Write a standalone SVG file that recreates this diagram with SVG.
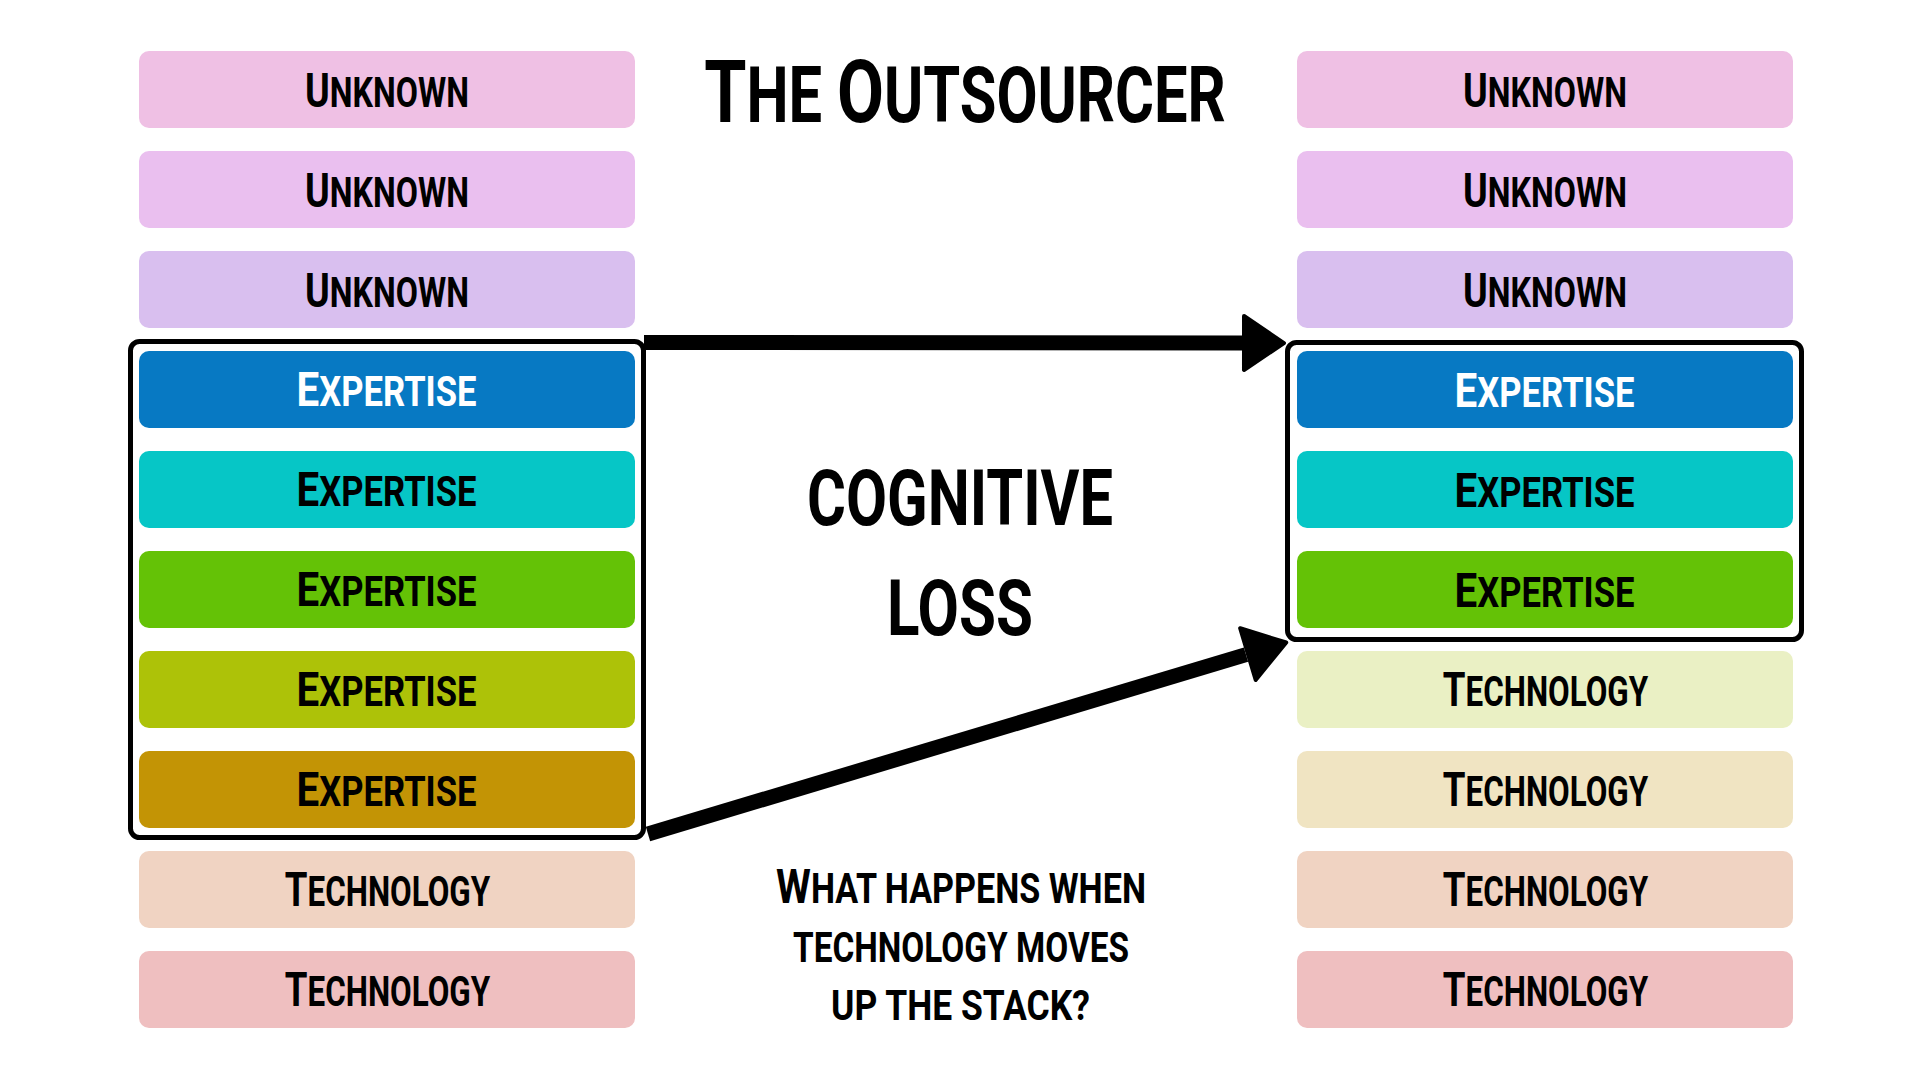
<svg xmlns="http://www.w3.org/2000/svg" width="1920" height="1080" viewBox="0 0 1920 1080">
<defs>
<style>
.lbl{font-family:Roboto,"Liberation Sans","DejaVu Sans",sans-serif;font-weight:700;font-size:42px;fill:#000}
.c{text-anchor:middle}
.big{font-size:49px}
.w{fill:#fff}
.title{font-size:77px}
.tbig{font-size:88px}
.frame{fill:none;stroke:#000;stroke-width:5}
.conn{fill:none;stroke:#000;stroke-width:15;marker-end:url(#head)}
</style>
<marker id="head" markerUnits="userSpaceOnUse" orient="auto" refX="0" refY="0" markerWidth="60" markerHeight="70" overflow="visible">
<path d="M2,-27 L42,0 L2,27 Z" fill="#000" stroke="#000" stroke-width="4" stroke-linejoin="round"/>
</marker>
</defs>
<rect width="1920" height="1080" fill="#fff"/>

<g id="frame-left"><rect class="frame" x="130.5" y="341.5" width="513" height="496" rx="9"/></g>
<g id="frame-right"><rect class="frame" x="1287.5" y="342.5" width="514" height="297" rx="9"/></g>

<g id="title"><text class="lbl title c" transform="translate(965,122) scale(0.7745,1)"><tspan class="tbig">T</tspan>HE <tspan class="tbig">O</tspan>UTSOURCER</text></g>

<g id="L1"><rect x="139" y="51" width="496" height="77" rx="10" fill="#EFC0E4"/><text class="lbl c" transform="translate(387,107) scale(0.768,1)"><tspan class="big">U</tspan>NKNOWN</text></g>
<g id="L2"><rect x="139" y="151" width="496" height="77" rx="10" fill="#EABFEF"/><text class="lbl c" transform="translate(387,207) scale(0.768,1)"><tspan class="big">U</tspan>NKNOWN</text></g>
<g id="L3"><rect x="139" y="251" width="496" height="77" rx="10" fill="#D9BFEF"/><text class="lbl c" transform="translate(387,307) scale(0.768,1)"><tspan class="big">U</tspan>NKNOWN</text></g>
<g id="L4"><rect x="139" y="351" width="496" height="77" rx="10" fill="#0779C3"/><text class="lbl c w" transform="translate(386.5,406) scale(0.824,1)"><tspan class="big">E</tspan>XPERTISE</text></g>
<g id="L5"><rect x="139" y="451" width="496" height="77" rx="10" fill="#06C6C6"/><text class="lbl c" transform="translate(386.5,506) scale(0.824,1)"><tspan class="big">E</tspan>XPERTISE</text></g>
<g id="L6"><rect x="139" y="551" width="496" height="77" rx="10" fill="#64C206"/><text class="lbl c" transform="translate(386.5,606) scale(0.824,1)"><tspan class="big">E</tspan>XPERTISE</text></g>
<g id="L7"><rect x="139" y="651" width="496" height="77" rx="10" fill="#ADC208"/><text class="lbl c" transform="translate(386.5,706) scale(0.824,1)"><tspan class="big">E</tspan>XPERTISE</text></g>
<g id="L8"><rect x="139" y="751" width="496" height="77" rx="10" fill="#C39405"/><text class="lbl c" transform="translate(386.5,806) scale(0.824,1)"><tspan class="big">E</tspan>XPERTISE</text></g>
<g id="L9"><rect x="139" y="851" width="496" height="77" rx="10" fill="#F0D3C2"/><text class="lbl c" transform="translate(387.5,906) scale(0.748,1)"><tspan class="big">T</tspan>ECHNOLOGY</text></g>
<g id="L10"><rect x="139" y="951" width="496" height="77" rx="10" fill="#EFBFC0"/><text class="lbl c" transform="translate(387.5,1006) scale(0.748,1)"><tspan class="big">T</tspan>ECHNOLOGY</text></g>

<g id="R1"><rect x="1297" y="51" width="496" height="77" rx="10" fill="#EFC0E4"/><text class="lbl c" transform="translate(1545,107) scale(0.768,1)"><tspan class="big">U</tspan>NKNOWN</text></g>
<g id="R2"><rect x="1297" y="151" width="496" height="77" rx="10" fill="#EABFEF"/><text class="lbl c" transform="translate(1545,207) scale(0.768,1)"><tspan class="big">U</tspan>NKNOWN</text></g>
<g id="R3"><rect x="1297" y="251" width="496" height="77" rx="10" fill="#D9BFEF"/><text class="lbl c" transform="translate(1545,307) scale(0.768,1)"><tspan class="big">U</tspan>NKNOWN</text></g>
<g id="R4"><rect x="1297" y="351" width="496" height="77" rx="10" fill="#0779C3"/><text class="lbl c w" transform="translate(1544.5,407) scale(0.824,1)"><tspan class="big">E</tspan>XPERTISE</text></g>
<g id="R5"><rect x="1297" y="451" width="496" height="77" rx="10" fill="#06C6C6"/><text class="lbl c" transform="translate(1544.5,507) scale(0.824,1)"><tspan class="big">E</tspan>XPERTISE</text></g>
<g id="R6"><rect x="1297" y="551" width="496" height="77" rx="10" fill="#64C206"/><text class="lbl c" transform="translate(1544.5,607) scale(0.824,1)"><tspan class="big">E</tspan>XPERTISE</text></g>
<g id="R7"><rect x="1297" y="651" width="496" height="77" rx="10" fill="#EAF0C4"/><text class="lbl c" transform="translate(1545.5,706) scale(0.748,1)"><tspan class="big">T</tspan>ECHNOLOGY</text></g>
<g id="R8"><rect x="1297" y="751" width="496" height="77" rx="10" fill="#F0E4C2"/><text class="lbl c" transform="translate(1545.5,806) scale(0.748,1)"><tspan class="big">T</tspan>ECHNOLOGY</text></g>
<g id="R9"><rect x="1297" y="851" width="496" height="77" rx="10" fill="#F0D3C2"/><text class="lbl c" transform="translate(1545.5,906) scale(0.748,1)"><tspan class="big">T</tspan>ECHNOLOGY</text></g>
<g id="R10"><rect x="1297" y="951" width="496" height="77" rx="10" fill="#EFBFC0"/><text class="lbl c" transform="translate(1545.5,1006) scale(0.748,1)"><tspan class="big">T</tspan>ECHNOLOGY</text></g>

<g id="cognitive-loss">
<text class="lbl title" x="807" y="525" textLength="306" lengthAdjust="spacingAndGlyphs">COGNITIVE</text>
<text class="lbl title" x="887" y="635" textLength="146" lengthAdjust="spacingAndGlyphs">LOSS</text>
</g>

<g id="question">
<text class="lbl c" transform="translate(961,903) scale(0.812,1)"><tspan class="big">W</tspan>HAT HAPPENS WHEN</text>
<text class="lbl" x="793" y="962" textLength="336" lengthAdjust="spacingAndGlyphs">TECHNOLOGY MOVES</text>
<text class="lbl" x="831" y="1020" textLength="259" lengthAdjust="spacingAndGlyphs">UP THE STACK?</text>
</g>

<g id="connectors">
<path class="conn" d="M644,342.5 L1242,343"/>
<path class="conn" d="M648,834 L1246,654.6"/>
</g>
</svg>
